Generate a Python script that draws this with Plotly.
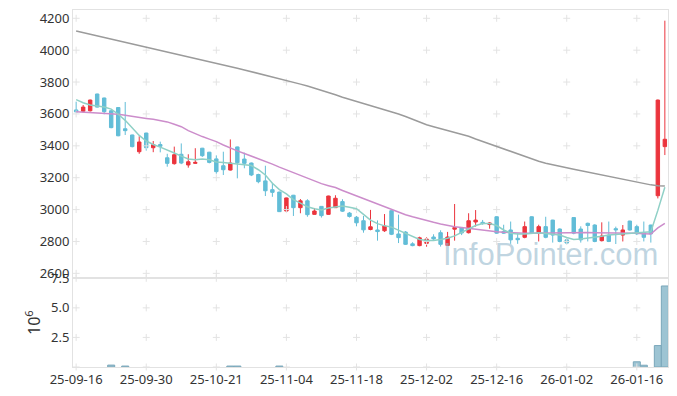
import itertools
import pandas as pd
import plotly.graph_objects as go
from plotly.subplots import make_subplots

# ---------------- data ----------------
holidays = ["2025-10-03", "2025-10-06", "2025-10-07", "2025-10-08", "2025-10-09",
            "2025-12-25", "2025-12-31", "2026-01-01"]
dates = pd.bdate_range("2025-09-16", "2026-01-22", freq="C", holidays=holidays)
date_labels = [d.strftime("%y-%m-%d") for d in dates]

opens = [3625, 3617, 3620, 3725, 3700, 3620, 3640, 3507, 3468, 3363,
         3480, 3388, 3408, 3325, 3288, 3347, 3280, 3290, 3385, 3360,
         3318, 3275, 3248, 3393, 3317, 3292, 3220, 3180, 3125, 3110,
         2991, 3090, 3012, 3055, 2970, 3020, 2970, 3012, 3050, 2978,
         2952, 2930, 2875, 2872, 2867, 2993, 2847, 2859, 2785, 2774,
         2788, 2828, 2855, 2775, 2877, 2887, 2855, 2922, 2920, 2906,
         2955, 2862, 2872, 2820, 2826, 2955, 2852, 2893, 2934, 2878,
         2810, 2950, 2878, 2914, 2903, 2805, 2840, 2880, 2840, 2928,
         2893, 2856, 2903, 3087, 3395]
highs = [3677, 3656, 3690, 3727, 3702, 3625, 3642, 3675, 3470, 3460,
         3482, 3430, 3426, 3350, 3395, 3415, 3347, 3385, 3387, 3362,
         3340, 3363, 3440, 3395, 3357, 3295, 3225, 3275, 3168, 3112,
         3075, 3092, 3066, 3065, 3010, 3022, 3087, 3090, 3065, 2985,
         2960, 2960, 2998, 2932, 2972, 2995, 2968, 2865, 2795, 2830,
         2826, 2845, 2870, 2860, 3035, 2890, 2977, 2997, 2935, 2922,
         2958, 2905, 2925, 2850, 2925, 2958, 2905, 2955, 2936, 2882,
         2820, 2952, 2895, 2918, 2908, 2920, 2925, 2893, 2903, 2930,
         2905, 2925, 2905, 3690, 4185]
lows = [3610, 3608, 3615, 3640, 3598, 3510, 3460, 3468, 3390, 3350,
        3370, 3360, 3359, 3269, 3282, 3285, 3263, 3286, 3330, 3290,
        3225, 3217, 3245, 3196, 3259, 3210, 3165, 3085, 3080, 2985,
        2985, 2960, 2977, 2955, 2968, 2950, 2968, 3010, 2985, 2950,
        2895, 2855, 2870, 2805, 2860, 2840, 2790, 2778, 2770, 2770,
        2767, 2810, 2768, 2772, 2805, 2840, 2850, 2893, 2905, 2880,
        2848, 2848, 2785, 2785, 2820, 2848, 2800, 2820, 2793, 2795,
        2785, 2845, 2793, 2800, 2795, 2800, 2796, 2784, 2800, 2868,
        2840, 2800, 2793, 3070, 3342]
closes = [3613, 3643, 3687, 3643, 3614, 3514, 3463, 3495, 3395, 3424,
          3388, 3407, 3397, 3290, 3344, 3292, 3300, 3296, 3338, 3296,
          3238, 3250, 3292, 3294, 3290, 3217, 3175, 3118, 3108, 2987,
          3073, 3012, 3055, 2968, 2991, 2962, 3085, 3071, 2990, 2957,
          2917, 2873, 2892, 2862, 2897, 2845, 2824, 2782, 2774, 2823,
          2815, 2816, 2782, 2828, 2887, 2853, 2930, 2934, 2912, 2916,
          2852, 2852, 2810, 2811, 2893, 2851, 2893, 2826, 2840, 2800,
          2790, 2852, 2810, 2900, 2800, 2834, 2800, 2873, 2872, 2872,
          2848, 2826, 2848, 3687, 3441]

ma_short = [3690, 3670, 3656, 3648, 3643, 3630, 3598, 3560, 3510, 3465,
            3430, 3408, 3392, 3375, 3355, 3335, 3317, 3312, 3318, 3312,
            3298, 3296, 3292, 3288, 3284, 3276, 3250, 3217, 3165, 3125,
            3098, 3062, 3040, 3018, 3005, 2998, 3010, 3018, 3022, 3015,
            3005, 2970, 2934, 2912, 2898, 2890, 2870, 2853, 2830, 2812,
            2806, 2806, 2812, 2820, 2835, 2855, 2880, 2900, 2913, 2912,
            2900, 2872, 2852, 2847, 2847, 2850, 2855, 2850, 2846, 2840,
            2825, 2813, 2815, 2820, 2825, 2832, 2840, 2843, 2845, 2850,
            2855, 2858, 2861, 2995, 3140]
ma_mid = [3614, 3612, 3610, 3608, 3606, 3603, 3598, 3592, 3584, 3578,
          3572, 3566, 3560, 3550, 3535, 3520, 3495, 3475, 3458, 3442,
          3426, 3405, 3385, 3368, 3352, 3336, 3320, 3304, 3285, 3266,
          3248, 3230, 3213, 3197, 3180, 3163, 3150, 3138, 3120, 3103,
          3087, 3068, 3050, 3032, 3015, 2997, 2983, 2968, 2955, 2942,
          2930, 2920, 2910, 2900, 2893, 2887, 2881, 2875, 2870, 2865,
          2861, 2858, 2855, 2853, 2852, 2851, 2852, 2853, 2854, 2855,
          2855, 2856, 2856, 2856, 2855, 2855, 2854, 2853, 2852, 2851,
          2851, 2849, 2847, 2885, 2914]
ma_long = [4120, 4110, 4100, 4090, 4080, 4070, 4060, 4051, 4042, 4032,
           4022, 4012, 4002, 3992, 3981, 3970, 3959, 3949, 3939, 3928,
           3918, 3908, 3898, 3887, 3876, 3865, 3854, 3843, 3833, 3823,
           3813, 3800, 3787, 3775, 3762, 3750, 3735, 3720, 3705, 3692,
           3680, 3668, 3655, 3641, 3628, 3615, 3600, 3584, 3566, 3549,
           3532, 3520, 3508, 3496, 3486, 3476, 3460, 3443, 3427, 3411,
           3395, 3379, 3363, 3347, 3331, 3315, 3303, 3291, 3280, 3271,
           3262, 3253, 3244, 3235, 3226, 3217, 3208, 3198, 3188, 3179,
           3170, 3162, 3155, 3150, 3148]

# volume in millions of shares (bars too small to see are read as 0)
volume_m = [0.0] * 85
for i, v in {5: 0.16, 7: 0.08, 22: 0.08, 23: 0.08, 29: 0.08,
             80: 0.44, 81: 0.15, 83: 1.81, 84: 6.85}.items():
    volume_m[i] = v

price_ticks = [2600, 2800, 3000, 3200, 3400, 3600, 3800, 4000, 4200]
volume_ticks = [2.5, 5.0, 7.5]
volume_tick_text = ["2.5", "5.0", "7.5"]
x_tick_idx = list(range(0, 85, 10))
x_tick_text = [date_labels[i] for i in x_tick_idx]

# ---------------- styles ----------------
RED = "#eb343d"
BLUE = "#62bdd7"
FONT = "Noto Sans"
AX = "#e2e2e2"
CROSS = dict(symbol="cross-thin", size=5, line=dict(color="#e3e3e3", width=1))
idx = list(range(len(dates)))
vol_edge = ["#7aa7ba" if v > 0 else "rgba(0,0,0,0)" for v in volume_m]

fig = make_subplots(rows=2, cols=1, shared_xaxes=True, vertical_spacing=0,
                    row_heights=[0.7515, 0.2485])

# grid crosses
px, py = zip(*itertools.product(x_tick_idx, price_ticks))
fig.add_trace(go.Scatter(x=px, y=py, mode="markers", marker=CROSS,
                         hoverinfo="skip"), row=1, col=1)
vx, vy = zip(*itertools.product(x_tick_idx, [0] + volume_ticks))
fig.add_trace(go.Scatter(x=vx, y=vy, mode="markers", marker=CROSS,
                         hoverinfo="skip", cliponaxis=False), row=2, col=1)

fig.add_trace(go.Candlestick(
    x=idx, open=opens, high=highs, low=lows, close=closes,
    increasing=dict(line=dict(color=RED, width=1), fillcolor=RED),
    decreasing=dict(line=dict(color=BLUE, width=1), fillcolor=BLUE),
    whiskerwidth=0), row=1, col=1)

fig.add_trace(go.Scatter(x=idx, y=ma_long, mode="lines",
                         line=dict(color="#9b9b9b", width=1.5)), row=1, col=1)
fig.add_trace(go.Scatter(x=idx, y=ma_mid, mode="lines",
                         line=dict(color="#cc8dcb", width=1.5)), row=1, col=1)
fig.add_trace(go.Scatter(x=idx, y=ma_short, mode="lines",
                         line=dict(color="#8fd0c6", width=1.5)), row=1, col=1)

fig.add_trace(go.Bar(x=idx, y=volume_m, width=1,
                     marker=dict(color="#9dc4d3", line=dict(color=vol_edge, width=1))),
              row=2, col=1)

fig.update_layout(
    width=677, height=396,
    margin=dict(l=73, r=9, t=10, b=29, autoexpand=False),
    paper_bgcolor="white", plot_bgcolor="white",
    showlegend=False, boxgap=0.3,
    font=dict(family=FONT, size=13, color="#333333"),
    annotations=[dict(text="InfoPointer.com", xref="paper", yref="paper",
                      x=0.803, y=0.314, xanchor="center", yanchor="middle",
                      showarrow=False,
                      font=dict(family="Liberation Sans", size=31,
                                color="rgba(150,185,205,0.6)"))],
)
fig.update_xaxes(range=[-0.45, 84.45], showgrid=False, zeroline=False,
                 showline=True, mirror=True, linecolor=AX, automargin=False,
                 tickvals=x_tick_idx, ticktext=x_tick_text, ticks="",
                 rangeslider=dict(visible=False))
fig.update_xaxes(showticklabels=False, row=1, col=1)
fig.update_yaxes(range=[2569, 4252], tickvals=price_ticks, showgrid=False,
                 zeroline=False, showline=True, mirror=True, linecolor=AX,
                 ticks="", automargin=False, row=1, col=1)
fig.update_yaxes(range=[0, 7.5], tickvals=volume_ticks, ticktext=volume_tick_text,
                 showgrid=False, zeroline=False, showline=True, mirror=True,
                 linecolor=AX, ticks="", automargin=False,
                 title=dict(text="10<sup>6</sup>", standoff=6), row=2, col=1)

fig.write_html("out.html", config={"displayModeBar": False},
               post_script="document.body.style.margin='0';"
                           "document.body.style.overflow='hidden';")
